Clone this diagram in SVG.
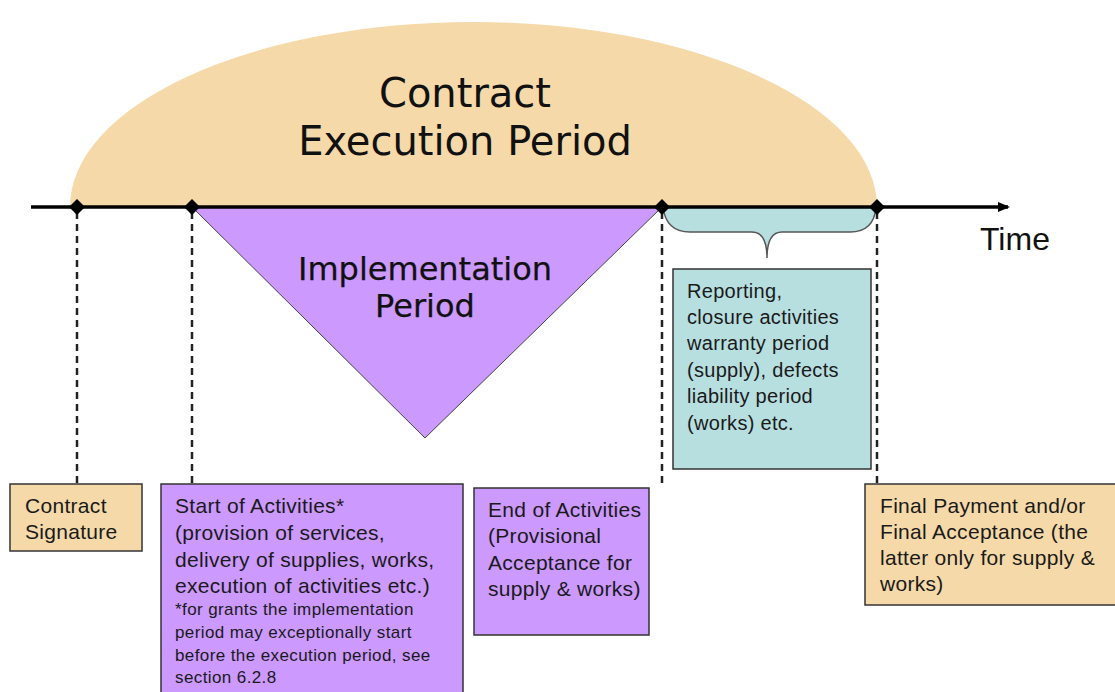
<svg xmlns="http://www.w3.org/2000/svg" width="1115" height="692" viewBox="0 0 1115 692">
<style>
.box{stroke:#333;stroke-width:1.5}
.beige{fill:#F5D9A8}
.purple{fill:#CC99FF}
.teal{fill:#B8DFE0}
.t{font-family:"Liberation Sans",Arial,sans-serif;font-size:21px;letter-spacing:0.3px;fill:#1a1a1a}
.r{font-family:"Liberation Sans",Arial,sans-serif;font-size:20px;letter-spacing:0.3px;fill:#1a1a1a}
.s{font-family:"Liberation Sans",Arial,sans-serif;font-size:17px;letter-spacing:0.4px;fill:#1a1a1a}
.big{font-family:"DejaVu Sans",Verdana,sans-serif;fill:#111;text-anchor:middle}
.dash{stroke:#222;stroke-width:2.5;stroke-dasharray:7,5;fill:none}
</style>
<defs>
<marker id="arr" markerWidth="12" markerHeight="10" refX="10" refY="5" orient="auto" markerUnits="userSpaceOnUse">
<path d="M0,0 L12,5 L0,10 Z" fill="#000"/>
</marker>
<path id="dia" d="M0,-8 L8,0 L0,8 L-8,0 Z" fill="#000"/>
</defs>
<g id="arch">
<path d="M70,207 A403.5,185 0 0 1 877,207 Z" class="beige"/>
<text class="big" x="465" y="107" font-size="40">Contract</text>
<text class="big" x="465" y="155" font-size="40">Execution Period</text>
</g>
<g id="implementation">
<path d="M192,207 L662,207 L425,438 Z" class="purple" stroke="#444" stroke-width="1"/>
<text class="big" x="425" y="280" font-size="32" stroke="#111" stroke-width="0.25">Implementation</text>
<text class="big" x="425" y="317" font-size="32" stroke="#111" stroke-width="0.25">Period</text>
</g>
<g id="brace">
<path d="M663,207 Q666,232 690,232 L752,232 Q767,232 767,258 Q767,232 782,232 L850,232 Q874,232 876,207 Z" class="teal" stroke="#555" stroke-width="1.5"/>
</g>
<g id="connectors">
<line x1="31" y1="207" x2="1008" y2="207" stroke="#000" stroke-width="3.5" marker-end="url(#arr)"/>
<line x1="77" y1="212" x2="77" y2="484" class="dash"/>
<line x1="192" y1="212" x2="192" y2="484" class="dash"/>
<line x1="662" y1="212" x2="662" y2="488" class="dash"/>
<line x1="877" y1="212" x2="877" y2="484" class="dash"/>
<use href="#dia" x="77" y="207"/>
<use href="#dia" x="192" y="207"/>
<use href="#dia" x="662" y="207"/>
<use href="#dia" x="877" y="207"/>
</g>
<g id="time">
<text x="980" y="250" font-family="Liberation Sans,Arial,sans-serif" font-size="32" fill="#111">Time</text>
</g>
<g id="reporting">
<rect x="673" y="269" width="198" height="200" class="box teal"/>
<text class="r"><tspan x="687" y="298">Reporting,</tspan><tspan x="687" y="324">closure activities</tspan><tspan x="687" y="350">warranty period</tspan><tspan x="687" y="377">(supply), defects</tspan><tspan x="687" y="403">liability period</tspan><tspan x="687" y="430">(works) etc.</tspan></text>
</g>
<g id="contract-signature">
<rect x="10" y="484" width="132" height="67" class="box beige"/>
<text class="t"><tspan x="25" y="513">Contract</tspan><tspan x="25" y="539">Signature</tspan></text>
</g>
<g id="start">
<rect x="161" y="484" width="302" height="215" class="box purple"/>
<text class="t"><tspan x="175" y="513">Start of Activities*</tspan><tspan x="175" y="540">(provision of services,</tspan><tspan x="175" y="567">delivery of supplies, works,</tspan><tspan x="175" y="593">execution of activities etc.)</tspan></text>
<text class="s"><tspan x="175" y="615">*for grants the implementation</tspan><tspan x="175" y="638">period may exceptionally start</tspan><tspan x="175" y="661">before the execution period, see</tspan><tspan x="175" y="683">section 6.2.8</tspan></text>
</g>
<g id="end">
<rect x="474" y="488" width="175" height="147" class="box purple"/>
<text class="t"><tspan x="488" y="517">End of Activities</tspan><tspan x="488" y="543">(Provisional</tspan><tspan x="488" y="570">Acceptance for</tspan><tspan x="488" y="596">supply &amp; works)</tspan></text>
</g>
<g id="final">
<rect x="865" y="484" width="260" height="121" class="box beige"/>
<text class="t"><tspan x="880" y="513">Final Payment and/or</tspan><tspan x="880" y="539">Final Acceptance (the</tspan><tspan x="880" y="565">latter only for supply &amp;</tspan><tspan x="880" y="591">works)</tspan></text>
</g>
</svg>
